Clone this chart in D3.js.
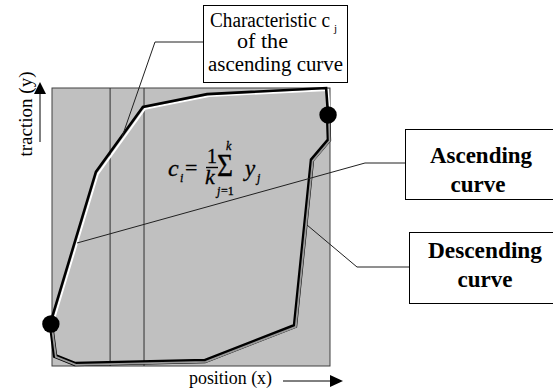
<!DOCTYPE html>
<html><head><meta charset="utf-8">
<script src="https://cdn.jsdelivr.net/npm/d3@7"></script>
<style>body{margin:0;background:#fff}svg{display:block}text{font-family:"Liberation Serif","Times New Roman",serif}</style>
</head><body>
<svg id="c" width="553" height="389"></svg>
<script>
// Data (in relative units of the plot area, 0..100)
const ascendingX = [-0.7, 15.8, 32.7, 55.8, 98.6, 99.3];
const ascendingY = [15.1, 69.8, 93.2, 97.8, 100, 90.3];
const descendingX = [99.3, 99.6, 93.5, 87.4, 55.0, 8.3, 1.1, -0.4];
const descendingY = [90.3, 81.3, 74.1, 14.4, 1.8, 0.7, 3.6, 15.1];
const endpointsX = [-0.4, 99.3];
const endpointsY = [15.1, 90.3];
const windowX = [20.9, 33.1];
const labels = {x: "position (x)", y: "traction (y)"};

const svg = d3.select("#c");
const x = d3.scaleLinear().domain([0, 100]).range([52, 330]);
const y = d3.scaleLinear().domain([0, 100]).range([366, 88]);

// plot area
svg.append("rect").attr("x", x(0)).attr("y", y(100)).attr("width", x(100) - x(0)).attr("height", y(0) - y(100))
  .attr("fill", "#c0c0c0").attr("stroke", "#404040").attr("stroke-width", 1);

// window lines
svg.selectAll(".win").data(windowX).join("line")
  .attr("x1", d => x(d)).attr("x2", d => x(d)).attr("y1", y(100)).attr("y2", y(0))
  .attr("stroke", "#303030").attr("stroke-width", 1);

const line = d3.line().x(d => x(d[0])).y(d => y(d[1]));
const asc = ascendingX.map((v, i) => [v, ascendingY[i]]);
const desc = descendingX.map((v, i) => [v, descendingY[i]]);

// descending curve: dark outline with gray core
svg.append("path").attr("d", line(desc)).attr("fill", "none").attr("stroke", "#000").attr("stroke-width", 4.5);
svg.append("path").attr("d", line(desc)).attr("fill", "none").attr("stroke", "#9a9a9a").attr("stroke-width", 1.8).attr("transform", "translate(0.8,0.8)");

// ascending curve: white highlight + black line
svg.append("path").attr("d", line(asc)).attr("fill", "none").attr("stroke", "#fff").attr("stroke-width", 1.8).attr("transform", "translate(2,2)");
svg.append("path").attr("d", line(asc)).attr("fill", "none").attr("stroke", "#000").attr("stroke-width", 2.6);

// endpoints
svg.selectAll(".dot").data(endpointsX).join("circle")
  .attr("cx", d => x(d)).attr("cy", (d, i) => y(endpointsY[i])).attr("r", 8.7).attr("fill", "#000");

function tx(g, x0, y0, s, str, opts = {}) {
  const e = g.append("text").attr("x", x0).attr("y", y0).attr("font-size", s).text(str);
  if (opts.i) e.attr("font-style", "italic");
  if (opts.b) e.attr("font-weight", "bold");
  if (opts.a) e.attr("text-anchor", opts.a);
  if (opts.w) e.attr("textLength", opts.w).attr("lengthAdjust", "spacingAndGlyphs");
  return e;
}

// formula
const f = svg.append("g").attr("fill", "#000").attr("stroke", "#000").attr("stroke-width", 0.3);
tx(f, 168, 176, 24, "c", {i: 1});
tx(f, 180, 182, 12, "i", {i: 1});
tx(f, 185, 175, 22, "=");
tx(f, 207, 163, 20, "1");
f.append("line").attr("x1", 206).attr("x2", 218).attr("y1", 167.5).attr("y2", 167.5).attr("stroke-width", 1.4);
tx(f, 205, 184, 22, "k", {i: 1});
tx(f, 217, 176, 31, "\u03A3", {w: 16});
tx(f, 226, 150, 12, "k", {i: 1});
tx(f, 217, 195, 12, "j", {i: 1});
tx(f, 221, 195, 12, "=1");
tx(f, 245, 176, 23, "y", {i: 1});
tx(f, 257, 182, 12, "j", {i: 1});

// leader lines
const leaders = [
  [[203, 42], [155, 42], [122, 137]],
  [[405, 163], [365, 163], [77, 243]],
  [[409, 267], [357, 267], [307, 225]]
];
svg.selectAll(".lead").data(leaders).join("polyline")
  .attr("points", d => d.map(p => p.join(",")).join(" "))
  .attr("fill", "none").attr("stroke", "#202020").attr("stroke-width", 1);

// boxes
const boxes = [[203, 5, 144, 77], [405, 129, 160, 70], [409, 232, 160, 71]];
svg.selectAll(".box").data(boxes).join("rect")
  .attr("x", d => d[0] + 0.5).attr("y", d => d[1] + 0.5).attr("width", d => d[2]).attr("height", d => d[3])
  .attr("fill", "#fff").attr("stroke", "#000").attr("stroke-width", 1);

const t = svg.append("g").attr("fill", "#000");
tx(t, 210, 27, 20, "Characteristic c", {w: 120});
tx(t, 334, 32, 11, "j");
tx(t, 237, 48, 20, "of the", {w: 51});
tx(t, 208, 71, 20, "ascending curve", {w: 135});

tx(t, 481, 163, 23.5, "Ascending", {b: 1, a: "middle", w: 102});
tx(t, 478, 192, 23.5, "curve", {b: 1, a: "middle", w: 55});
tx(t, 485, 258, 23.5, "Descending", {b: 1, a: "middle", w: 114});
tx(t, 485, 287, 23.5, "curve", {b: 1, a: "middle", w: 55});

// axis labels and arrows
tx(t, 189, 384, 19, labels.x, {w: 83});
t.append("text").attr("transform", "translate(32,114) rotate(-90)").attr("font-size", 19.5).attr("text-anchor", "middle")
  .attr("textLength", 85).attr("lengthAdjust", "spacingAndGlyphs").text(labels.y);
tx(t, 76, -4, 18, "g");

svg.append("line").attr("x1", 283).attr("x2", 333).attr("y1", 381).attr("y2", 381).attr("stroke", "#000").attr("stroke-width", 1);
svg.append("path").attr("d", "M343,381 L330,375 L330,387 Z").attr("fill", "#000");
svg.append("line").attr("x1", 40).attr("x2", 40).attr("y1", 142).attr("y2", 92).attr("stroke", "#000").attr("stroke-width", 1);
svg.append("path").attr("d", "M40,82 L34,94 L46,94 Z").attr("fill", "#000");
</script>
</body></html>
